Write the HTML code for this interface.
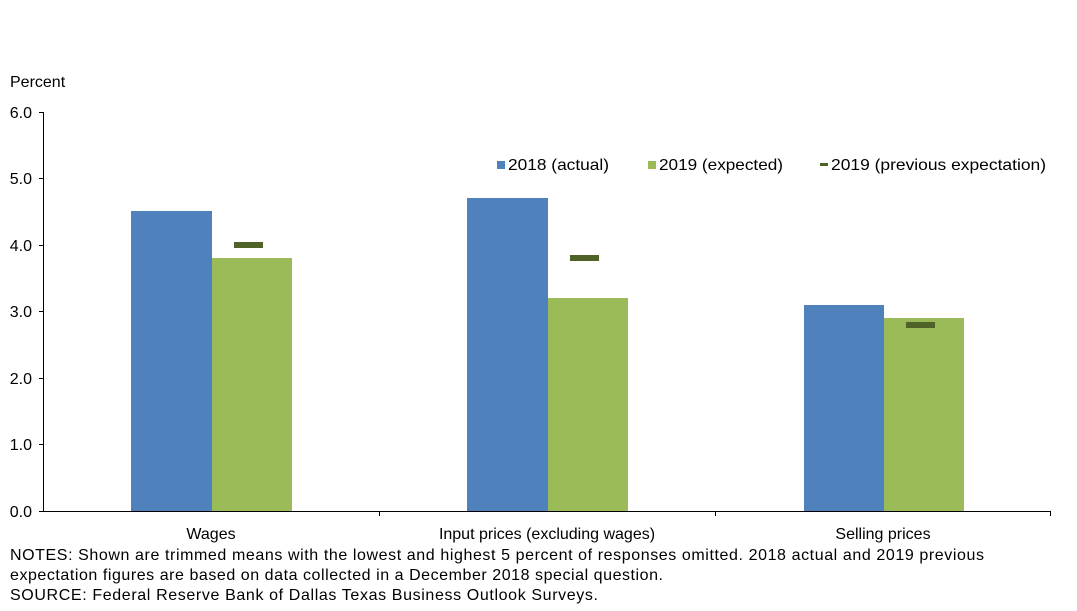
<!DOCTYPE html>
<html><head><meta charset="utf-8"><style>body{margin:0;background:#fff}svg{display:block}</style></head>
<body>
<svg width="1077" height="611" xmlns="http://www.w3.org/2000/svg" font-family="Liberation Sans, sans-serif" font-size="16" fill="#000">
<text x="10" y="87">Percent</text>
<g text-anchor="end">
<text x="32" y="118">6.0</text>
<text x="32" y="184">5.0</text>
<text x="32" y="251">4.0</text>
<text x="32" y="317">3.0</text>
<text x="32" y="384">2.0</text>
<text x="32" y="450">1.0</text>
<text x="32" y="517">0.0</text>
</g>
<g stroke="#000" stroke-width="1">
<line x1="43.5" y1="112" x2="43.5" y2="511"/>
<line x1="39" y1="112.5" x2="43" y2="112.5"/>
<line x1="39" y1="178.5" x2="43" y2="178.5"/>
<line x1="39" y1="245.5" x2="43" y2="245.5"/>
<line x1="39" y1="311.5" x2="43" y2="311.5"/>
<line x1="39" y1="378.5" x2="43" y2="378.5"/>
<line x1="39" y1="444.5" x2="43" y2="444.5"/>
<line x1="39" y1="511.5" x2="1050" y2="511.5"/>
<line x1="379.5" y1="511" x2="379.5" y2="516"/>
<line x1="715.5" y1="511" x2="715.5" y2="516"/>
<line x1="1050.5" y1="511" x2="1050.5" y2="516"/>
</g>
<g fill="#4f81bd">
<rect x="131" y="211" width="81" height="300"/>
<rect x="467" y="198" width="81" height="313"/>
<rect x="804" y="305" width="80" height="206"/>
</g>
<g fill="#9bbb59">
<rect x="212" y="258" width="80" height="253"/>
<rect x="548" y="298" width="80" height="213"/>
<rect x="884" y="318" width="80" height="193"/>
</g>
<g fill="#4f6228">
<rect x="234" y="242" width="29" height="6"/>
<rect x="570" y="255" width="29" height="6"/>
<rect x="906" y="322" width="29" height="6"/>
</g>
<rect x="497" y="161" width="8" height="8" fill="#4f81bd"/>
<text x="508" y="170" textLength="101" lengthAdjust="spacingAndGlyphs">2018 (actual)</text>
<rect x="648" y="161" width="8" height="8" fill="#9bbb59"/>
<text x="659" y="170" textLength="124" lengthAdjust="spacingAndGlyphs">2019 (expected)</text>
<rect x="820" y="163" width="8" height="3" fill="#4f6228"/>
<text x="831" y="170" textLength="215" lengthAdjust="spacingAndGlyphs">2019 (previous expectation)</text>
<g text-anchor="middle">
<text x="211" y="539">Wages</text>
<text x="547" y="539">Input prices (excluding wages)</text>
<text x="883" y="539">Selling prices</text>
</g>
<text x="10" y="560" textLength="974" lengthAdjust="spacing">NOTES: Shown are trimmed means with the lowest and highest 5 percent of responses omitted. 2018 actual and 2019 previous</text>
<text x="10" y="580" textLength="653" lengthAdjust="spacing">expectation figures are based on data collected in a December 2018 special question.</text>
<text x="10" y="600" textLength="588" lengthAdjust="spacing">SOURCE: Federal Reserve Bank of Dallas Texas Business Outlook Surveys.</text>
</svg>
</body></html>
